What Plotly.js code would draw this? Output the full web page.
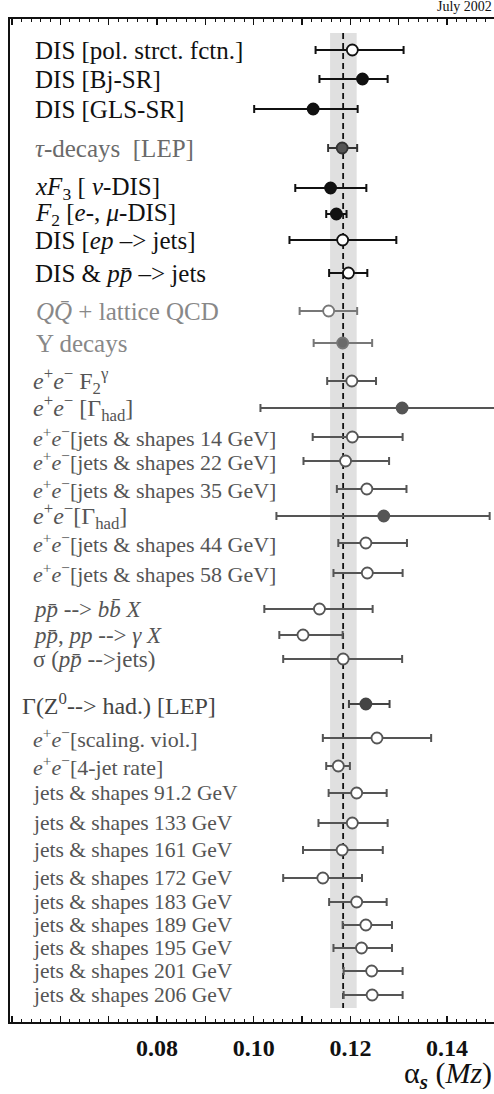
<!DOCTYPE html>
<html>
<head>
<meta charset="utf-8">
<script src="https://cdn.plot.ly/plotly-3.0.1.min.js"></script>
<style>html,body{margin:0;padding:0;background:#fff;}#chart{width:494px;height:1094px;}</style>
</head>
<body>
<div id="chart"></div>
<script>
// ---- data ----
var labels = [
  "DIS [pol. strct. fctn.]",
  "DIS [Bj-SR]",
  "DIS [GLS-SR]",
  "<i>τ</i>-decays  [LEP]",
  "<i>xF</i><sub>3</sub> [ <i>ν</i>-DIS]",
  "<i>F</i><sub>2</sub> [<i>e</i>-, <i>μ</i>-DIS]",
  "DIS [<i>ep</i> –> jets]",
  "DIS & <i>pp̄</i> –> jets",
  "<i>QQ̄</i> + lattice QCD",
  "Υ decays",
  "<i>e</i><sup>+</sup><i>e</i><sup>−</sup> F<sub>2</sub><sup>γ</sup>",
  "<i>e</i><sup>+</sup><i>e</i><sup>−</sup> [Γ<sub>had</sub>]",
  "<i>e</i><sup>+</sup><i>e</i><sup>−</sup>[jets & shapes 14 GeV]",
  "<i>e</i><sup>+</sup><i>e</i><sup>−</sup>[jets & shapes 22 GeV]",
  "<i>e</i><sup>+</sup><i>e</i><sup>−</sup>[jets & shapes 35 GeV]",
  "<i>e</i><sup>+</sup><i>e</i><sup>−</sup>[Γ<sub>had</sub>]",
  "<i>e</i><sup>+</sup><i>e</i><sup>−</sup>[jets & shapes 44 GeV]",
  "<i>e</i><sup>+</sup><i>e</i><sup>−</sup>[jets & shapes 58 GeV]",
  "<i>pp̄</i> --> <i>bb̄ X</i>",
  "<i>pp̄</i>, <i>pp</i> --> <i>γ X</i>",
  "σ (<i>pp̄</i> -->jets)",
  "Γ(Z<sup>0</sup>--> had.) [LEP]",
  "<i>e</i><sup>+</sup><i>e</i><sup>−</sup>[scaling. viol.]",
  "<i>e</i><sup>+</sup><i>e</i><sup>−</sup>[4-jet rate]",
  "jets & shapes 91.2 GeV",
  "jets & shapes 133 GeV",
  "jets & shapes 161 GeV",
  "jets & shapes 172 GeV",
  "jets & shapes 183 GeV",
  "jets & shapes 189 GeV",
  "jets & shapes 195 GeV",
  "jets & shapes 201 GeV",
  "jets & shapes 206 GeV"
];
var rowY = [50, 79, 109, 148, 188, 214, 240, 273, 311, 343, 381, 408, 437, 461, 489, 516, 543, 573,
            609, 635, 659, 704, 738, 766, 793, 823, 850, 878, 902, 925, 948, 971, 995];
var alphaS = [0.1204, 0.1225, 0.1123, 0.1183, 0.1159, 0.1171, 0.1184, 0.1196, 0.1155, 0.1184, 0.1203,
              0.1307, 0.1204, 0.1190, 0.1234, 0.1269, 0.1232, 0.1235,
              0.1136, 0.1102, 0.1185, 0.1232, 0.1255, 0.1175,
              0.1213, 0.1204, 0.1183, 0.1143, 0.1213, 0.1232, 0.1223, 0.1244, 0.1245];
var errLow = [0.1128, 0.1136, 0.1001, 0.1154, 0.1086, 0.1150, 0.1074, 0.1156, 0.1095, 0.1124, 0.1152,
              0.1014, 0.1122, 0.1103, 0.1172, 0.1047, 0.1175, 0.1165,
              0.1022, 0.1053, 0.1061, 0.1197, 0.1143, 0.1150,
              0.1155, 0.1134, 0.1102, 0.1061, 0.1156, 0.1184, 0.1165, 0.1186, 0.1186];
var errHigh = [0.1310, 0.1277, 0.1215, 0.1214, 0.1233, 0.1192, 0.1295, 0.1235, 0.1214, 0.1245, 0.1253,
               0.1600, 0.1308, 0.1280, 0.1316, 0.1488, 0.1317, 0.1308,
               0.1246, 0.1184, 0.1307, 0.1281, 0.1367, 0.1199,
               0.1275, 0.1277, 0.1267, 0.1224, 0.1275, 0.1286, 0.1286, 0.1308, 0.1308];
var filled = [false, true, true, true, true, true, false, false, false, true, false,
              true, false, false, false, true, false, false,
              false, false, false, true, false, false,
              false, false, false, false, false, false, false, false, false];
var group = ["dis","dis","dis","tau","dis","dis","dis","dis","lat","lat","ee",
             "ee","eej","eej","eej","ee","eej","eej",
             "pp","pp","pp","z","eej","eej",
             "js","js","js","js","js","js","js","js","js"];
var worldAvg = 0.1185, worldLo = 0.1158, worldHi = 0.1213;
var tickVals = [0.05, 0.06, 0.07, 0.08, 0.09, 0.10, 0.11, 0.12, 0.13, 0.14, 0.15];
var tickText = ["", "", "", "<b>0.08</b>", "", "<b>0.10</b>", "", "<b>0.12</b>", "", "<b>0.14</b>", ""];

// ---- styles ----
var SERIF = "Liberation Serif";
var styles = {
  dis: {text:"#111", line:"#111", fill:"#111", size:25, x:0.047},
  tau: {text:"#6a6a6a", line:"#333", fill:"#555", size:25, x:0.047},
  lat: {text:"#888", line:"#777", fill:"#6a6a6a", size:25, x:0.050},
  ee:  {text:"#555", line:"#555", fill:"#555", size:24, x:0.043},
  eej: {text:"#555", line:"#555", fill:"#555", size:22, x:0.043},
  pp:  {text:"#555", line:"#555", fill:"#555", size:23, x:0.043},
  z:   {text:"#444", line:"#444", fill:"#444", size:24, x:0.020},
  js:  {text:"#555", line:"#555", fill:"#555", size:21.5, x:0.043}
};

var traces = [];
var annotations = [];
for (var i = 0; i < labels.length; i++) {
  var st = styles[group[i]];
  traces.push({
    type: "scatter", mode: "markers",
    x: [alphaS[i]], y: [rowY[i]],
    error_x: {type: "data", symmetric: false,
              array: [errHigh[i] - alphaS[i]], arrayminus: [alphaS[i] - errLow[i]],
              color: st.line, thickness: 2, width: 4},
    marker: {symbol: "circle", size: 11,
             color: filled[i] ? st.fill : "#ffffff",
             line: {color: st.line, width: 1.8}},
    showlegend: false, hoverinfo: "skip", cliponaxis: true
  });
  annotations.push({
    xref: "paper", yref: "y", x: st.x, y: rowY[i],
    xanchor: "left", yanchor: "middle", showarrow: false,
    text: labels[i],
    font: {family: SERIF, size: st.size, color: st.text}
  });
}

annotations.push({
  xref: "paper", yref: "paper", x: 1, y: 1.003, xanchor: "right", yanchor: "bottom",
  showarrow: false, text: "July 2002",
  font: {family: SERIF, size: 14, color: "#111"}
});
annotations.push({
  xref: "paper", yref: "paper", x: 1.0, y: -0.053, xanchor: "right", yanchor: "middle",
  showarrow: false, text: "α<sub><b><i>s</i></b></sub> (<i>Mz</i>)",
  font: {family: SERIF, size: 30, color: "#111"}
});

var layout = {
  width: 494, height: 1094,
  margin: {l: 10, r: 0, t: 19, b: 72, pad: 0},
  paper_bgcolor: "#fff", plot_bgcolor: "#fff",
  showlegend: false,
  font: {family: SERIF},
  xaxis: {
    range: [0.0496, 0.1497], showgrid: false, zeroline: false,
    showline: true, linecolor: "#111", linewidth: 2, mirror: "allticks",
    ticks: "inside", ticklen: 6, tickwidth: 1.4, tickcolor: "#111",
    tickmode: "array", tickvals: tickVals, ticktext: tickText,
    tickfont: {family: SERIF, size: 24, color: "#111"},
    ticklabelstandoff: 3,
    minor: {dtick: 0.002, tick0: 0.05, ticks: "inside", ticklen: 3, tickwidth: 1, tickcolor: "#111", showgrid: false}
  },
  yaxis: {
    range: [1022, 19], showgrid: false, zeroline: false,
    showline: true, linecolor: "#111", linewidth: 2.5, mirror: false,
    ticks: "", showticklabels: false
  },
  shapes: [
    {type: "rect", xref: "x", yref: "y", x0: worldLo, x1: worldHi, y0: 33, y1: 1008,
     fillcolor: "#e0e0e0", line: {width: 0}, layer: "below"},
    {type: "line", xref: "x", yref: "y", x0: worldAvg, x1: worldAvg, y0: 33, y1: 1008,
     line: {color: "#111", width: 1.8, dash: "6px,4px"}, layer: "below"}
  ],
  annotations: annotations
};

Plotly.newPlot("chart", traces, layout, {staticPlot: true, displayModeBar: false});
</script>
</body>
</html>
